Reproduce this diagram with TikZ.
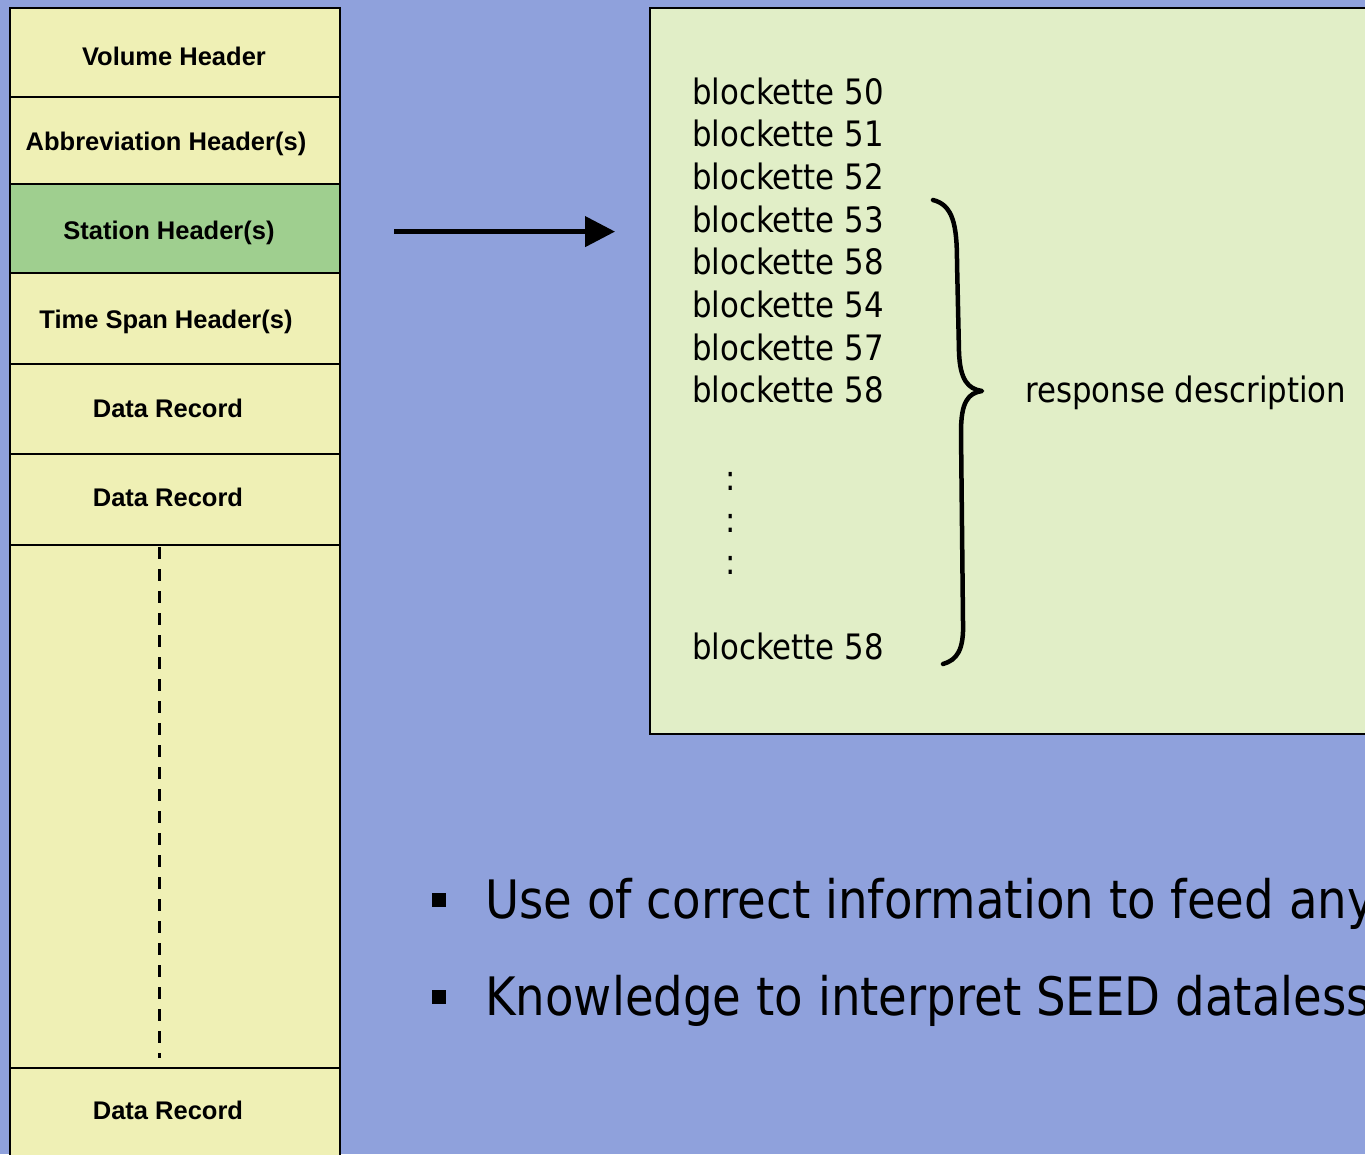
\documentclass[tikz,border=0pt]{standalone}
\usepackage{fontspec}
\usetikzlibrary{arrows.meta}
\newfontfamily\labfont{Liberation Sans}
\newfontfamily\narrowfont{DejaVu Sans}[FakeStretch=0.88]
\definecolor{bgblue}{HTML}{8FA1DC}
\definecolor{rowyellow}{HTML}{EFF0B5}
\definecolor{rowgreen}{HTML}{9FCF8F}
\definecolor{boxgreen}{HTML}{E1EEC7}
\tikzset{
  rowbox/.style={draw=black, line width=2.2pt, fill=rowyellow, minimum width=330pt,
    inner sep=0pt, anchor=north west},
  rowlabel/.style={anchor=base, inner sep=0pt, font=\labfont\bfseries\fontsize{25.5}{29}\selectfont},
  blk/.style={anchor=base west, inner sep=0pt, font=\narrowfont\fontsize{35}{40}\selectfont},
  bullettext/.style={anchor=base west, inner sep=0pt, font=\narrowfont\fontsize{53}{60}\selectfont},
  bulletsq/.style={fill=black, minimum size=14pt, inner sep=0pt}
}
\begin{document}
\begin{tikzpicture}[x=1pt,y=-1pt]
\useasboundingbox (0,0) rectangle (1365,1154);
\clip (0,0) rectangle (1365,1154);
\fill[bgblue] (0,0) rectangle (1365,1154);

% record stack on the left
\node[rowbox, minimum height=89pt] (vol) at (9,7) {};
\node[rowbox, minimum height=87pt] (abbr) at (9,96) {};
\node[rowbox, minimum height=89pt, fill=rowgreen] (stat) at (9,183) {};
\node[rowbox, minimum height=91pt] (tspan) at (9,272) {};
\node[rowbox, minimum height=90pt] (rec1) at (9,363) {};
\node[rowbox, minimum height=91pt] (rec2) at (9,453) {};
\node[rowbox, minimum height=523pt] (gap) at (9,544) {};
\node[rowbox, minimum height=110pt] (rec3) at (9,1067) {};

\node[rowlabel] (volt) at (174,65) {Volume Header};
\node[rowlabel] (abbrt) at (166,150) {Abbreviation Header(s)};
\node[rowlabel] (statt) at (169,239) {Station Header(s)};
\node[rowlabel] (tspant) at (166,328) {Time Span Header(s)};
\node[rowlabel] (rec1t) at (168,417) {Data Record};
\node[rowlabel] (rec2t) at (168,506) {Data Record};
\node[rowlabel] (rec3t) at (168,1119) {Data Record};

% elided records
\draw[line width=3pt, dash pattern=on 12pt off 10pt] (159,547) -- (159,1058);

% blockette panel
\node[draw=black, line width=2pt, fill=boxgreen, minimum width=760pt, minimum height=726pt,
  inner sep=0pt, anchor=north west] (box) at (649,7) {};

\draw[line width=4.5pt, -{Triangle[length=30pt,width=30pt]}, shorten <=53pt, shorten >=34pt]
  ([yshift=-3pt]stat.east) -- ([yshift=-3pt]stat.east -| box.west);

\node[blk] (b1) at (692,104) {blockette 50};
\node[blk] (b2) at (692,146.7) {blockette 51};
\node[blk] (b3) at (692,189.4) {blockette 52};
\node[blk] (b4) at (692,232.1) {blockette 53};
\node[blk] (b5) at (692,274.8) {blockette 58};
\node[blk] (b6) at (692,317.5) {blockette 54};
\node[blk] (b7) at (692,360.2) {blockette 57};
\node[blk] (b8) at (692,402.9) {blockette 58};
\node[blk] (d1) at (725,490) {:};
\node[blk] (d2) at (725,532) {:};
\node[blk] (d3) at (725,574) {:};
\node[blk] (b9) at (692,659) {blockette 58};

% brace grouping the response blockettes
\draw[line width=4.5pt, line cap=round, line join=round]
  (933,200) .. controls (953,205) and (957,225) .. (957,262)
  -- (959,352) .. controls (960,380) and (968,389) .. (982,391)
  .. controls (968,393) and (961,402) .. (961,432)
  -- (963,622) .. controls (964,650) and (957,660) .. (943,664);
\node[blk] (resp) at (1025,402.9) {response description};

% bullet points
\node[bulletsq] (sq1) at (439,900) {};
\node[bullettext] (t1) at (485,918) {Use of correct information to feed any};
\node[bulletsq] (sq2) at (439,997) {};
\node[bullettext] (t2) at (485,1015) {Knowledge to interpret SEED dataless};
\end{tikzpicture}
\end{document}
